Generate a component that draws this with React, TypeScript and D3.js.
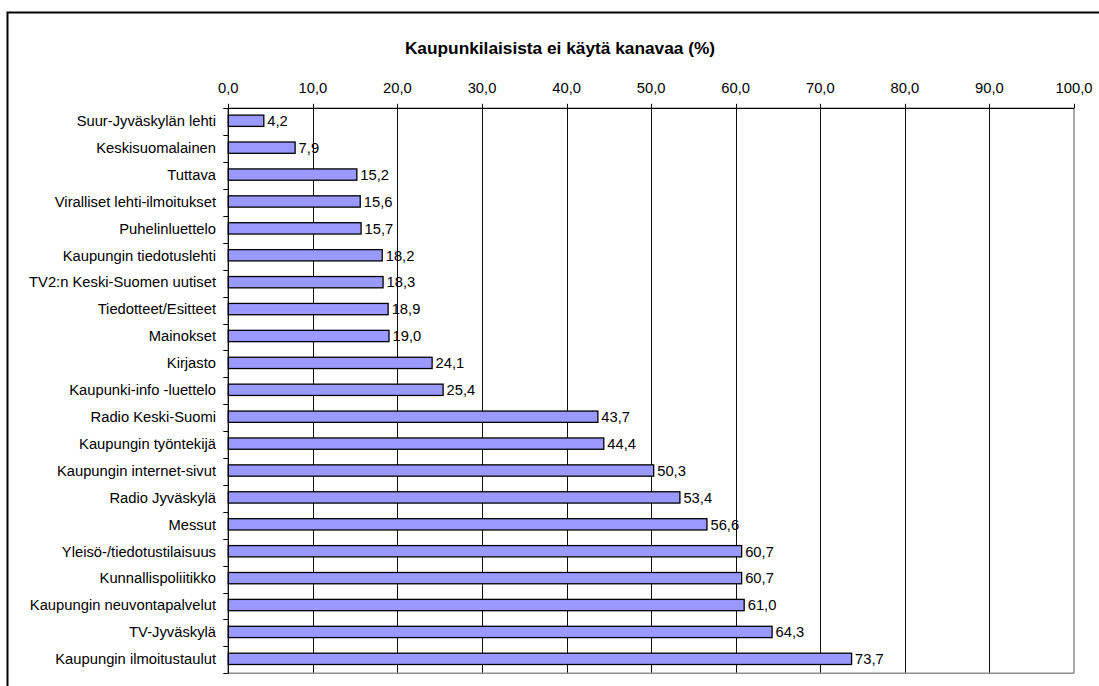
import React from "react";
import * as d3 from "d3";

const categories: string[] = [
  "Suur-Jyväskylän lehti",
  "Keskisuomalainen",
  "Tuttava",
  "Viralliset lehti-ilmoitukset",
  "Puhelinluettelo",
  "Kaupungin tiedotuslehti",
  "TV2:n Keski-Suomen uutiset",
  "Tiedotteet/Esitteet",
  "Mainokset",
  "Kirjasto",
  "Kaupunki-info -luettelo",
  "Radio Keski-Suomi",
  "Kaupungin työntekijä",
  "Kaupungin internet-sivut",
  "Radio Jyväskylä",
  "Messut",
  "Yleisö-/tiedotustilaisuus",
  "Kunnallispoliitikko",
  "Kaupungin neuvontapalvelut",
  "TV-Jyväskylä",
  "Kaupungin ilmoitustaulut",
];

const values: number[] = [
  4.2, 7.9, 15.2, 15.6, 15.7, 18.2, 18.3, 18.9, 19.0, 24.1, 25.4, 43.7, 44.4,
  50.3, 53.4, 56.6, 60.7, 60.7, 61.0, 64.3, 73.7,
];

const tickValues: number[] = [0, 10, 20, 30, 40, 50, 60, 70, 80, 90, 100];

const title = "Kaupunkilaisista ei käytä kanavaa (%)";

const W = 1099;
const H = 686;
const plot = { left: 228.3, right: 1074, top: 108.3, bottom: 673.3 };
const FONT = "Arial, 'Liberation Sans', sans-serif";
const LABEL_SIZE = 14.75;

const fmt = (v: number) => v.toFixed(1).replace(".", ",");

export default function App() {
  const x = d3.scaleLinear().domain([0, 100]).range([plot.left, plot.right]);
  const y = d3
    .scaleBand<string>()
    .domain(categories)
    .range([plot.top, plot.bottom])
    .paddingInner(0.58)
    .paddingOuter(0.29);
  const step = y.step();
  const boundaries = d3.range(categories.length + 1).map((i) => plot.top + i * step);

  return (
    <svg
      width={W}
      height={H}
      style={{ position: "absolute", left: 0, top: 0, background: "#fff" }}
      fontFamily={FONT}
    >
      <rect x={0} y={0} width={W} height={H} fill="#fff" />
      {/* chart frame */}
      <rect x={7.5} y={12.5} width={1120} height={700} fill="none" stroke="#000" strokeWidth={2} />

      <text x={560} y={53.5} textAnchor="middle" fontSize={17.3} fontWeight="bold" fill="#000">
        {title}
      </text>

      {/* vertical gridlines */}
      {tickValues.slice(1, -1).map((t) => (
        <line
          key={"g" + t}
          x1={Math.round(x(t)) + 0.5}
          x2={Math.round(x(t)) + 0.5}
          y1={plot.top}
          y2={plot.bottom}
          stroke="#111"
          strokeWidth={1}
        />
      ))}
      {/* plot border right / bottom */}
      <line x1={x(100)} x2={x(100)} y1={plot.top} y2={plot.bottom} stroke="#8c8c8c" strokeWidth={1.5} />
      <line x1={plot.left} x2={plot.right} y1={plot.bottom} y2={plot.bottom} stroke="#8c8c8c" strokeWidth={1.5} />

      {/* bars */}
      {categories.map((c, i) => (
        <rect
          key={c}
          x={x(0)}
          y={(y(c) as number) - 1}
          width={x(values[i]) - x(0)}
          height={y.bandwidth()}
          fill="#9999ff"
          stroke="#000"
          strokeWidth={1.3}
        />
      ))}

      {/* value labels */}
      {categories.map((c, i) => (
        <text
          key={"v" + c}
          x={x(values[i]) + 3.5}
          y={(y(c) as number) - 1 + y.bandwidth() / 2}
          dy="0.36em"
          fontSize={LABEL_SIZE}
          fill="#000"
        >
          {fmt(values[i])}
        </text>
      ))}

      {/* top axis */}
      <line x1={plot.left} x2={plot.right} y1={plot.top} y2={plot.top} stroke="#000" strokeWidth={1.3} />
      {tickValues.map((t) => (
        <g key={"t" + t}>
          <line
            x1={Math.round(x(t)) + 0.5}
            x2={Math.round(x(t)) + 0.5}
            y1={plot.top - 4.5}
            y2={plot.top}
            stroke="#000"
            strokeWidth={1}
          />
          <text x={x(t)} y={92.5} textAnchor="middle" fontSize={LABEL_SIZE} fill="#000">
            {fmt(t)}
          </text>
        </g>
      ))}

      {/* left axis */}
      <line x1={plot.left} x2={plot.left} y1={plot.top} y2={plot.bottom} stroke="#000" strokeWidth={1.3} />
      {boundaries.map((b, i) => (
        <line
          key={"yt" + i}
          x1={plot.left - 5}
          x2={plot.left}
          y1={Math.round(b) + 0.5}
          y2={Math.round(b) + 0.5}
          stroke="#000"
          strokeWidth={1}
        />
      ))}
      {categories.map((c) => (
        <text
          key={"c" + c}
          x={216}
          y={(y(c) as number) - 1 + y.bandwidth() / 2}
          dy="0.36em"
          textAnchor="end"
          fontSize={LABEL_SIZE}
          fill="#000"
        >
          {c}
        </text>
      ))}
    </svg>
  );
}
